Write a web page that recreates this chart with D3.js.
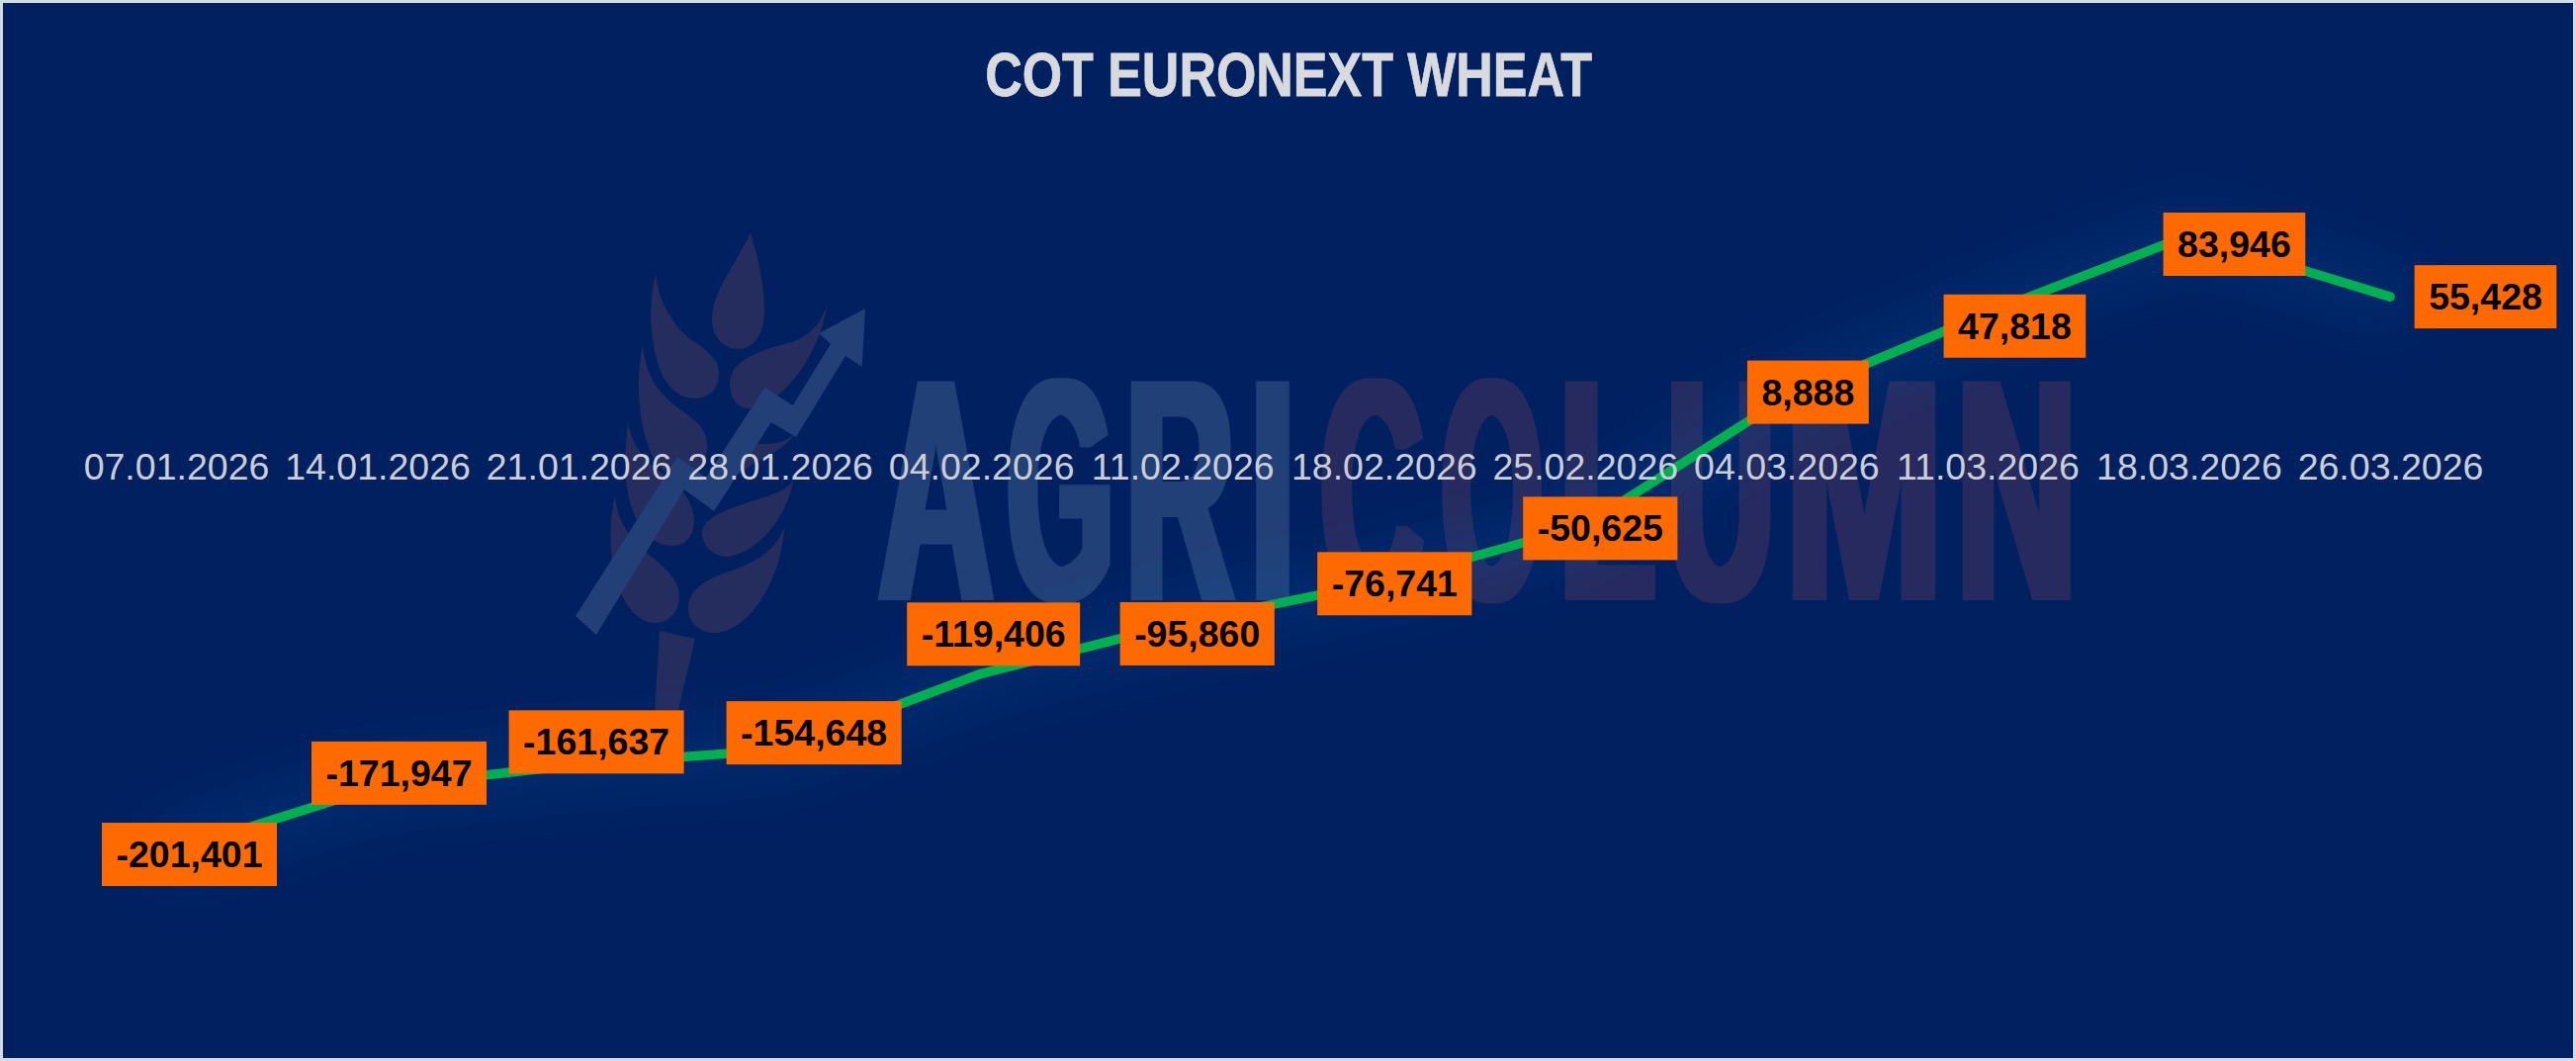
<!DOCTYPE html>
<html>
<head>
<meta charset="utf-8">
<script src="https://cdnjs.cloudflare.com/ajax/libs/d3/7.8.5/d3.min.js"></script>
<style>
html,body{margin:0;padding:0;background:#002060;}
svg{display:block;}
text{font-family:"Liberation Sans",Arial,sans-serif;}
</style>
</head>
<body>
<script>
const titleText = "COT EURONEXT WHEAT";
const categories = ["07.01.2026","14.01.2026","21.01.2026","28.01.2026","04.02.2026","11.02.2026","18.02.2026","25.02.2026","04.03.2026","11.03.2026","18.03.2026","26.03.2026"];
const values = [-201401,-171947,-161637,-154648,-119406,-95860,-76741,-50625,8888,47818,83946,55428];
// manual data-label displacement from each point
const labelDx = [13.5,22,18,34.5,12.5,15,11,15.5,22,27.5,46,96.5];
const labelDy = [4,-14,-23,-17,-40,11,2,3,-5,13,9,0];
// watermark lettering
const wmLetters = ["A","G","R","I","C","O","L","U","M","N"];
const wmLeft    = [886,1018,1143,1269.5,1335,1457,1582,1688,1812,1984];
const wmRight   = [1006.5,1123,1250,1305,1441.5,1561,1676,1792,1960,2094];

const W = 2605, H = 1073;
const svg = d3.select("body").append("svg").attr("width",W).attr("height",H);
const defs = svg.append("defs");
defs.append("filter").attr("id","glow").attr("filterUnits","userSpaceOnUse")
  .attr("x",0).attr("y",0).attr("width",W).attr("height",H)
  .append("feGaussianBlur").attr("stdDeviation",30);
defs.append("filter").attr("id","fatten").attr("filterUnits","userSpaceOnUse")
  .attr("x",0).attr("y",0).attr("width",W).attr("height",H)
  .append("feMorphology").attr("operator","dilate").attr("radius","5 0");

svg.append("rect").attr("x",1.5).attr("y",1.5).attr("width",W-3).attr("height",H-3)
  .attr("fill","#002060").attr("stroke","#d5dbe5").attr("stroke-width",3);

// watermark
const mark = svg.append("g").attr("class","watermark");
const brown = "#252c5e", blue = "#233f78";
const leaves = [
 "M759,236C768,265 773,290 773,315C773,338 762,353 747,353C731,353 720,340 720,323C720,295 745,265 759,236Z",
 "M663,277C655,310 657,350 670,380C680,398 692,403 703,403C718,403 727,392 727,377C727,362 712,352 697,342C680,328 666,305 663,277Z",
 "M837,307C830,330 815,342 797,347C775,353 738,362 738,388C738,403 746,413 758,413C780,413 825,375 837,307Z",
 "M650,348C643,385 645,420 655,450C662,470 675,483 690,483C708,483 716,465 715,447C714,430 695,420 680,408C662,393 652,375 650,348Z",
 "M804,437C790,455 770,445 745,452C730,458 722,470 726,482C735,490 750,478 760,470C780,460 798,450 804,437Z",
 "M635,428C630,465 632,495 640,517C648,538 662,552 680,552C695,552 702,540 702,527C702,510 690,495 680,485C660,475 640,455 635,428Z",
 "M802,487C790,500 770,503 745,512C722,520 710,528 710,540C711,553 722,563 735,563C765,560 795,525 802,487Z",
 "M622,502C615,530 615,570 628,600C636,618 648,630 662,630C678,630 687,617 687,603C687,585 670,572 655,560C638,545 625,530 622,502Z",
 "M793,533C785,555 770,565 745,575C715,585 696,595 696,615C696,630 708,640 722,640C755,640 790,590 793,533Z",
 "M667,638L703,646L685,722L662,722Z"
];
mark.selectAll("path.leaf").data(leaves).join("path").attr("class","leaf").attr("d",d=>d).attr("fill",brown);
mark.append("path").attr("fill",blue)
  .attr("d","M582,623L685,462L714,483L773.3,392L801.7,410L840,348L828.3,337L875,312L871.7,371L855,360L805,442L780,427L722,517L692,495L603,642Z");

const ctx = document.createElement("canvas").getContext("2d");
const wmSize = 322, dilate = 5;
ctx.font = `bold ${wmSize}px "Liberation Sans"`;
const wmGroup = mark.append("g").attr("filter","url(#fatten)");
wmGroup.selectAll("text").data(wmLetters).join("text")
  .attr("font-size",wmSize).attr("font-weight",700)
  .attr("fill",(d,i)=>i<4?blue:brown)
  .attr("transform",(d,i)=>{
    const m = ctx.measureText(d);
    const inkL = -m.actualBoundingBoxLeft, inkR = m.actualBoundingBoxRight;
    const sx = (wmRight[i]-wmLeft[i]-2*dilate)/(inkR-inkL);
    return `translate(${wmLeft[i]+dilate-inkL*sx},607) scale(${sx},1)`;
  })
  .text(d=>d);

const x = d3.scalePoint().domain(categories).range([178,2417]);
const y = d3.scaleLinear().domain([-250000,100000]).range([966,203]);
const line = d3.line().x((d,i)=>x(categories[i])).y(d=>y(d)).curve(d3.curveLinear);

svg.append("path").datum(values).attr("d",line).attr("fill","none")
  .attr("stroke","#0f66b0").attr("stroke-width",50).attr("stroke-opacity",.22)
  .attr("stroke-linecap","round").attr("filter","url(#glow)");
svg.append("path").datum(values).attr("d",line).attr("fill","none")
  .attr("stroke","#00b050").attr("stroke-width",9.5)
  .attr("stroke-linecap","round").attr("stroke-linejoin","round");

const axis = svg.append("g").attr("transform",`translate(0,${y(0)})`)
  .call(d3.axisBottom(x).tickSize(0).tickPadding(37));
axis.select(".domain").remove();
axis.selectAll("text").attr("font-size",37.5).attr("fill","#cbced6")
  .style("font-family",'"Liberation Sans",Arial,sans-serif');

svg.append("text").attr("transform","translate(1303,97) scale(0.83,1)").attr("text-anchor","middle")
  .attr("font-size",62.6).attr("font-weight",700).attr("fill","#d9dade")
  .attr("stroke","#d9dade").attr("stroke-width",0.8).text(titleText);

const fmt = d3.format(",");
const lab = svg.append("g").selectAll("g").data(values).join("g")
  .attr("transform",(d,i)=>`translate(${x(categories[i])+labelDx[i]},${y(d)+labelDy[i]})`);
lab.append("rect").attr("fill","#ff6a00");
lab.append("text").attr("text-anchor","middle").attr("y",13).attr("font-size",37.5)
  .attr("font-weight",700).attr("fill","#000").text(d=>fmt(d).replace("−","-"))
  .each(function(){
    const w = this.getComputedTextLength()+29;
    d3.select(this.parentNode).select("rect").attr("x",-w/2).attr("y",-32).attr("width",w).attr("height",64);
  });
</script>
</body>
</html>
